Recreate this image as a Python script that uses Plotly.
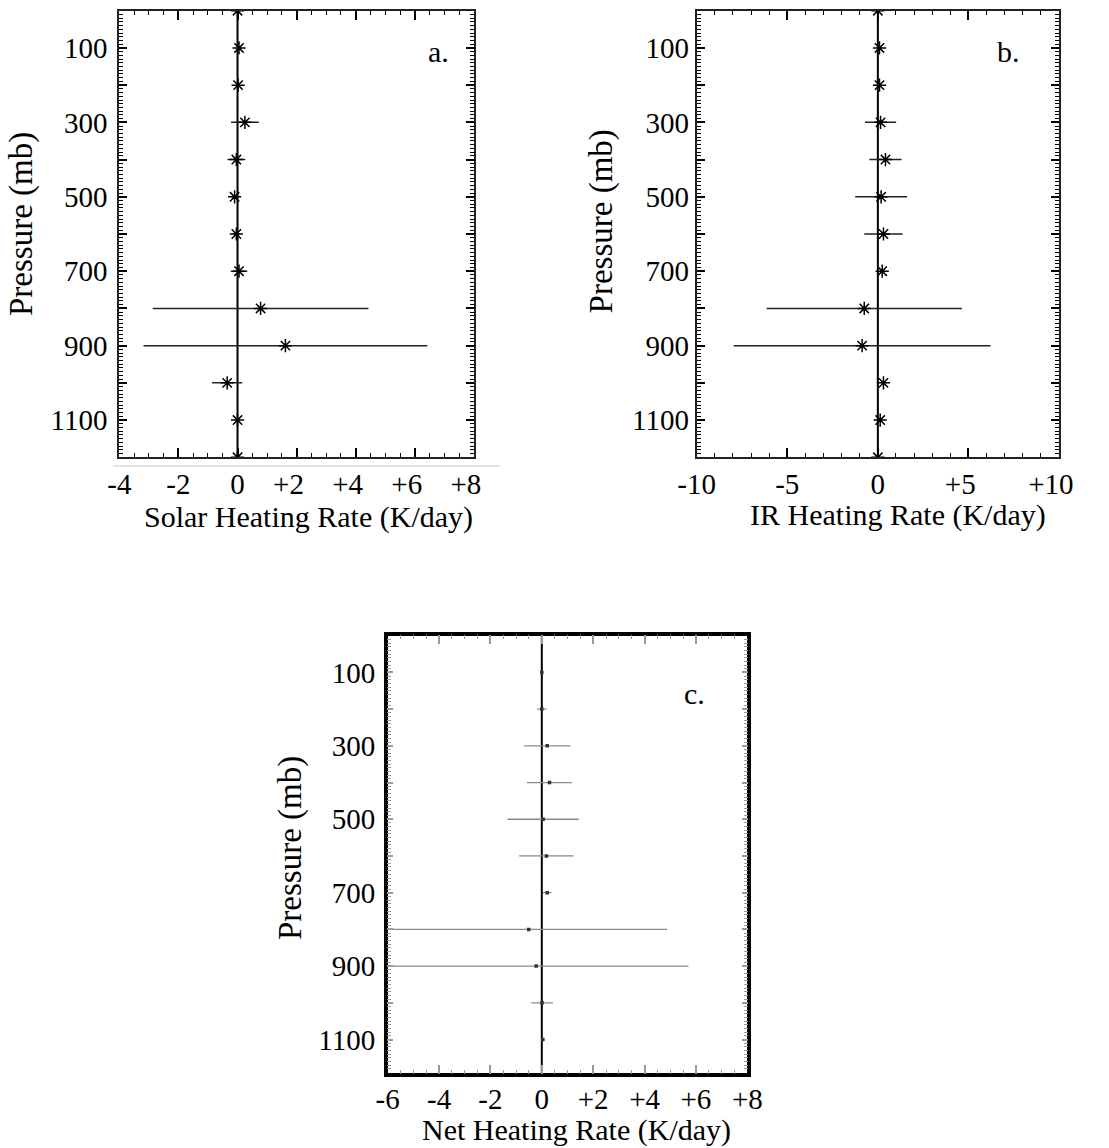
import plotly.graph_objects as go

# Canvas size in pixels
W, H = 1109, 1148

# ---------------- data ----------------
pressure = [100, 200, 300, 400, 500, 600, 700, 800, 900, 1000, 1100]

solar_rate = [0.05, 0.02, 0.25, -0.04, -0.10, -0.04, 0.05, 0.78, 1.62, -0.35, 0.00]
solar_err = [0.05, 0.05, 0.47, 0.30, 0.10, 0.10, 0.28, 3.65, 4.80, 0.51, 0.05]

ir_rate = [0.09, 0.09, 0.15, 0.42, 0.18, 0.31, 0.24, -0.75, -0.87, 0.31, 0.13]
ir_err = [0.05, 0.05, 0.86, 0.89, 1.43, 1.06, 0.05, 5.39, 7.09, 0.05, 0.05]

net_rate = [0.00, 0.00, 0.21, 0.30, 0.05, 0.18, 0.21, -0.51, -0.22, 0.01, 0.04]
net_err = [0.05, 0.18, 0.91, 0.88, 1.39, 1.06, 0.17, 5.39, 5.93, 0.42, 0.05]

solar_ticks = [-4, -2, 0, 2, 4, 6, 8]
solar_ticktext = ["-4", "-2", "0", "+2", "+4", "+6", "+8"]
ir_ticks = [-10, -5, 0, 5, 10]
ir_ticktext = ["-10", "-5", "0", "+5", "+10"]
net_ticks = [-6, -4, -2, 0, 2, 4, 6, 8]
net_ticktext = ["-6", "-4", "-2", "0", "+2", "+4", "+6", "+8"]

pressure_ticks = [100, 200, 300, 400, 500, 600, 700, 800, 900, 1000, 1100]
pressure_ticktext = ["100", "", "300", "", "500", "", "700", "", "900", "", "1100"]

# zero reference line spans the full pressure range of each panel
zero_line_p_ab = [0, 1200]
zero_line_p_c = [0, 1192]

FONT = "Liberation Serif"


def hang_plus(labels):
    """Keep the digits centred on the tick: a leading '+' hangs to the left."""
    out = []
    for t in labels:
        if t.startswith("+"):
            out.append(t + '<span style="color:rgba(0,0,0,0)">+</span>')
        else:
            out.append(t)
    return out


def px(x):
    return x / W


def py(y):
    return 1 - y / H


star = dict(symbol="asterisk-open", size=11, color="black", line=dict(color="black", width=1.5))

fig = go.Figure()

# ---- panel a: solar ----
fig.add_trace(go.Scatter(
    x=[0, 0], y=zero_line_p_ab, mode="lines+markers",
    line=dict(color="black", width=2), marker=star,
    xaxis="x", yaxis="y", hoverinfo="skip"))
fig.add_trace(go.Scatter(
    x=solar_rate, y=pressure, mode="markers", marker=star,
    error_x=dict(type="data", array=solar_err, width=0, thickness=1.5, color="#222"),
    xaxis="x", yaxis="y"))

# ---- panel b: IR ----
fig.add_trace(go.Scatter(
    x=[0, 0], y=zero_line_p_ab, mode="lines+markers",
    line=dict(color="black", width=2), marker=star,
    xaxis="x2", yaxis="y2", hoverinfo="skip"))
fig.add_trace(go.Scatter(
    x=ir_rate, y=pressure, mode="markers", marker=star,
    error_x=dict(type="data", array=ir_err, width=0, thickness=1.5, color="#222"),
    xaxis="x2", yaxis="y2"))

# ---- panel c: net ----
fig.add_trace(go.Scatter(
    x=[0, 0], y=zero_line_p_c, mode="lines",
    line=dict(color="black", width=2),
    xaxis="x3", yaxis="y3", hoverinfo="skip"))
fig.add_trace(go.Scatter(
    x=net_rate, y=pressure, mode="markers",
    marker=dict(symbol="square", size=3.5, color="#333"),
    error_x=dict(type="data", array=net_err, width=0, thickness=1.3, color="#8a8a8a"),
    xaxis="x3", yaxis="y3"))

tickfont = dict(family=FONT, size=29, color="black")


def xaxis_style(dom, rng, tv, tt, minor_dtick, anchor, standoff,
                line_w=2, tick_col="black", line_col="#222"):
    return dict(
        domain=dom, range=rng, anchor=anchor, automargin=False,
        showline=True, linecolor=line_col, linewidth=line_w, mirror="ticks",
        ticks="inside", ticklen=9, tickwidth=1.5, tickcolor=tick_col,
        tickmode="array", tickvals=tv, ticktext=tt, tickfont=tickfont,
        ticklabelstandoff=standoff,
        minor=dict(ticks="inside", ticklen=4, tickwidth=1.2, tickcolor=tick_col,
                   tickmode="linear", tick0=0, dtick=minor_dtick),
        showgrid=False, zeroline=False, fixedrange=True)


def yaxis_style(dom, rng, anchor, standoff, line_w=2, tick_col="black",
                line_col="#222", major_len=8):
    return dict(
        domain=dom, range=rng, anchor=anchor, automargin=False,
        showline=True, linecolor=line_col, linewidth=line_w, mirror="ticks",
        ticks="inside", ticklen=major_len, tickwidth=1.5, tickcolor=tick_col,
        tickmode="array", tickvals=pressure_ticks, ticktext=pressure_ticktext,
        tickfont=tickfont, ticklabelstandoff=standoff,
        minor=dict(ticks="inside", ticklen=4, tickwidth=1, tickcolor=tick_col,
                   tickmode="linear", tick0=0, dtick=10),
        showgrid=False, zeroline=False, fixedrange=True)


ab_ydom = [py(457.3), py(10.7)]
c_ydom = [py(1073.3), py(635.7)]

fig.update_layout(
    width=W, height=H,
    margin=dict(l=0, r=0, t=0, b=0, autoexpand=False),
    paper_bgcolor="white", plot_bgcolor="white",
    showlegend=False,
    xaxis=xaxis_style([px(119.3), px(474)], [-4, 8], solar_ticks,
                      hang_plus(solar_ticktext), 0.5, "y", 0),
    yaxis=yaxis_style(ab_ydom, [1200, 0], "x", 4),
    xaxis2=xaxis_style([px(696.7), px(1059)], [-10, 10], ir_ticks,
                       hang_plus(ir_ticktext), 1, "y2", 0),
    yaxis2=yaxis_style(ab_ydom, [1200, 0], "x2", 0),
    xaxis3=xaxis_style([px(387.7), px(747.3)], [-6, 8], net_ticks, net_ticktext, 0.5, "y3", -3,
                       line_w=3.5, tick_col="#9a9a9a", line_col="black"),
    yaxis3=yaxis_style(c_ydom, [1192, 0], "x3", 3, line_w=3.5, tick_col="#9a9a9a",
                       line_col="black", major_len=6),
)

title_font = dict(family=FONT, size=30, color="black")
ytitle_font = dict(family=FONT, size=33, color="black")
annotations = [
    dict(text="Solar Heating Rate (K/day)", x=px(308.3), y=py(517), font=title_font),
    dict(text="IR Heating Rate (K/day)", x=px(897.5), y=py(515), font=title_font),
    dict(text="Net Heating Rate (K/day)", x=px(576.7), y=py(1130), font=title_font),
    dict(text="Pressure (mb)", x=px(22), y=py(224), textangle=-90, font=ytitle_font),
    dict(text="Pressure (mb)", x=px(601.7), y=py(221.7), textangle=-90, font=ytitle_font),
    dict(text="Pressure (mb)", x=px(290), y=py(848), textangle=-90, font=ytitle_font),
    dict(text="a.", x=px(438), y=py(52), font=title_font),
    dict(text="b.", x=px(1008), y=py(51), font=title_font),
    dict(text="c.", x=px(694), y=py(693), font=title_font),
]
for a in annotations:
    a.update(xref="paper", yref="paper", xanchor="center", yanchor="middle",
             showarrow=False)
fig.update_layout(annotations=annotations)

# thin rule beneath the solar panel
fig.add_shape(type="line", xref="paper", yref="paper",
              x0=px(113), x1=px(500), y0=py(466), y1=py(466),
              line=dict(color="#c8c8c8", width=1))

fig.write_html("out.html")
